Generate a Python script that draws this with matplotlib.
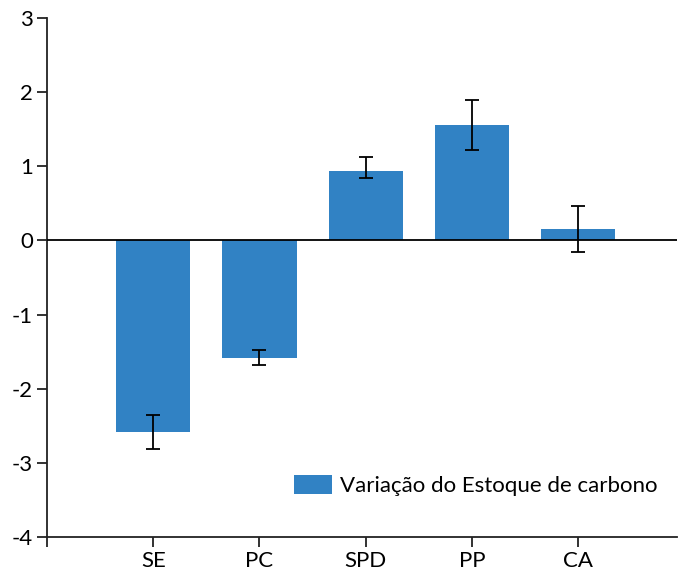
import numpy as np
import matplotlib.pyplot as plt

plt.rcParams['font.family'] = ['Lato', 'DejaVu Sans']
plt.rcParams['axes.unicode_minus'] = False

# variação do estoque de carbono por sistema de uso
categorias = ['SE', 'PC', 'SPD', 'PP', 'CA']
variacao = [-2.58, -1.58, 0.94, 1.56, 0.15]
erro_inf = [0.23, 0.10, 0.10, 0.34, 0.31]
erro_sup = [0.23, 0.10, 0.19, 0.34, 0.31]
ticks_y = [-4, -3, -2, -1, 0, 1, 2, 3]

cor = '#3182c4'

fig = plt.figure(figsize=(6.78, 5.77), dpi=100)
ax = fig.add_axes([47/678, 1-537/577, 630/678, 519/577])

x = np.arange(1, len(categorias)+1)
ax.bar(x, variacao, width=0.7, color=cor, label='Variação do Estoque de carbono', zorder=2)
ax.errorbar(x, variacao, yerr=[erro_inf, erro_sup], fmt='none', ecolor='black',
            elinewidth=1.3, capsize=4.7, capthick=1.3, zorder=3)

ax.axhline(0, color='black', linewidth=1.3, zorder=4)

ax.set_xlim(0, 5.93)
ax.set_ylim(-4, 3)
ax.set_yticks(ticks_y)
ax.set_xticks([0] + list(x))
ax.set_xticklabels([''] + categorias)

for s in ['top', 'right']:
    ax.spines[s].set_visible(False)
for s in ['left', 'bottom']:
    ax.spines[s].set_linewidth(1.3)
    ax.spines[s].set_color('#222222')

ax.tick_params(axis='both', length=7, width=1.3, color='#222222', labelsize=16, pad=3)

ax.legend(loc='lower right', bbox_to_anchor=(1.0, 0.04), frameon=False, fontsize=16,
          handlelength=1.7, handleheight=0.9, handletextpad=0.36, borderaxespad=0.5)

plt.savefig('out.png', dpi=100)
